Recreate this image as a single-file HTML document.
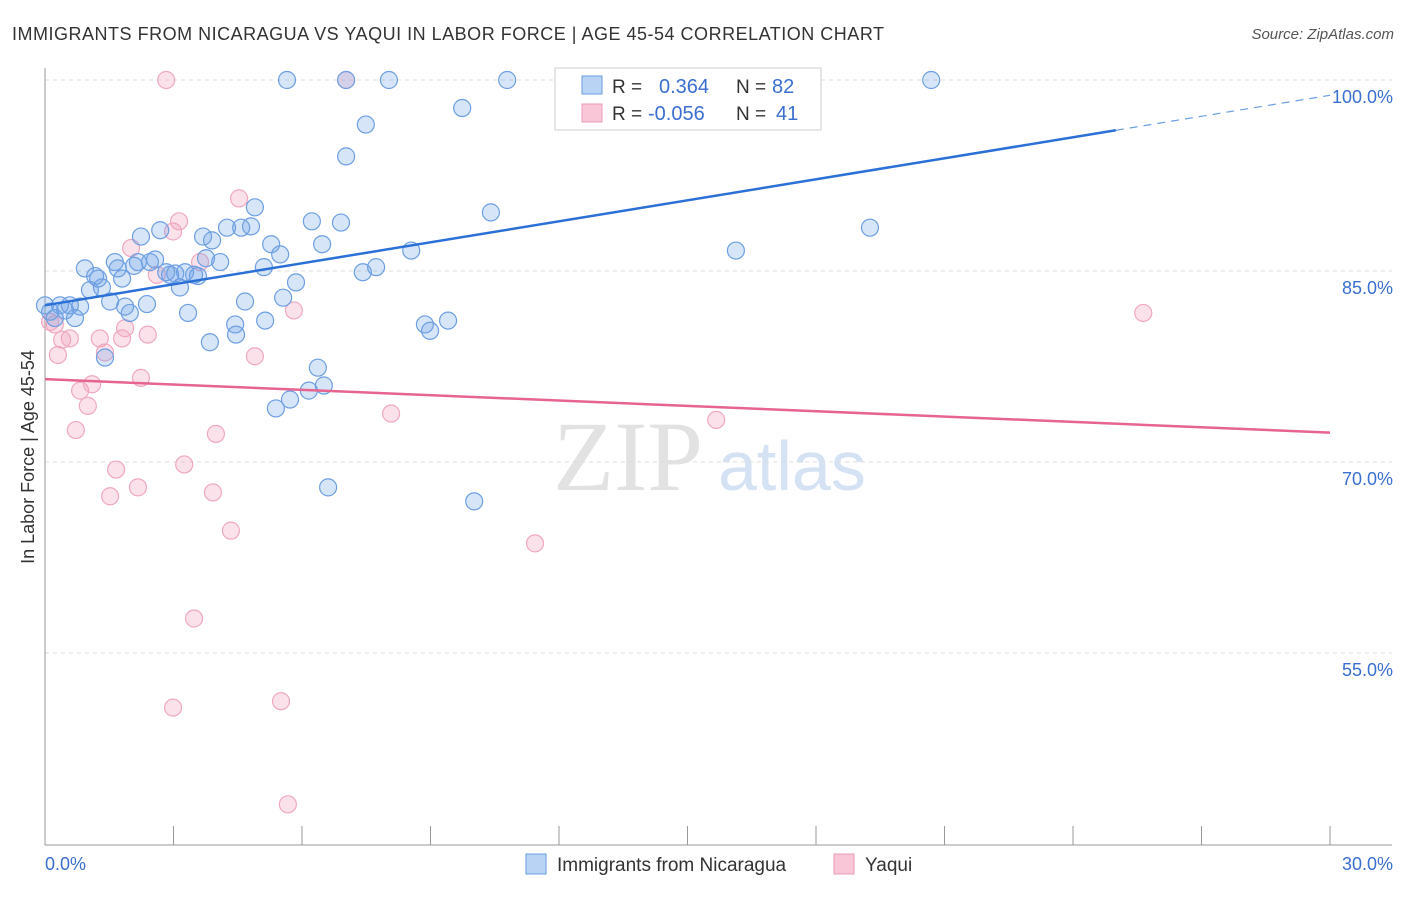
<!DOCTYPE html>
<html><head><meta charset="utf-8"><style>
body{margin:0;background:#fff;font-family:"Liberation Sans",sans-serif;}
</style></head><body>
<svg id="c" width="1406" height="892" xmlns="http://www.w3.org/2000/svg" style="font-family:'Liberation Sans',sans-serif">
<text x="12" y="40" font-size="18" fill="#333" textLength="872" lengthAdjust="spacing">IMMIGRANTS FROM NICARAGUA VS YAQUI IN LABOR FORCE | AGE 45-54 CORRELATION CHART</text>
<text x="1394" y="39" font-size="15" fill="#555" text-anchor="end" font-style="italic">Source: ZipAtlas.com</text>
<text x="34" y="457" font-size="18" fill="#333" text-anchor="middle" transform="rotate(-90 34 457)">In Labor Force | Age 45-54</text>
<text x="553" y="490" font-size="100" fill="#e2e2e2" font-family="Liberation Serif,serif">ZIP</text>
<text x="718" y="490" font-size="70" fill="#d4e2f4">atlas</text>
<g id="grid"></g><g id="pts"></g><g id="lines"></g>
<g>
<rect x="555" y="68" width="266" height="62" fill="#fff" stroke="#ccc"/>
<rect x="582" y="76" width="20" height="18" fill="#b9d3f5" stroke="#6a9ee0"/>
<rect x="582" y="104" width="20" height="18" fill="#f8c6d6" stroke="#eb9ab5"/>
<text x="612" y="93" font-size="19" fill="#333">R = </text><text x="659" y="93" font-size="20" fill="#3a6fd0">0.364</text>
<text x="736" y="93" font-size="19" fill="#333">N = </text><text x="772" y="93" font-size="20" fill="#3a6fd0">82</text>
<text x="612" y="120" font-size="19" fill="#333">R = </text><text x="648" y="120" font-size="20" fill="#3a6fd0">-0.056</text>
<text x="736" y="120" font-size="19" fill="#333">N = </text><text x="776" y="120" font-size="20" fill="#3a6fd0">41</text>
</g>
<g>
<rect x="526" y="854" width="20" height="20" fill="#b9d3f5" stroke="#6a9ee0"/>
<text x="557" y="871" font-size="19" fill="#333">Immigrants from Nicaragua</text>
<rect x="834" y="854" width="20" height="20" fill="#f8c6d6" stroke="#eb9ab5"/>
<text x="865" y="871" font-size="19" fill="#333">Yaqui</text>
</g>
</svg>
<script>
const yTicks=[100,85,70,55];
const yTickLabels=["100.0%","85.0%","70.0%","55.0%"];
const xTickVals=[0,3,6,9,12,15,18,21,24,27,30];
const blueX=[0,0.12,0.23,0.35,0.47,0.58,0.70,0.82,0.93,1.05,1.17,1.24,1.33,1.40,1.52,1.63,1.70,1.80,1.87,1.98,2.08,2.17,2.24,2.38,2.45,2.57,2.69,2.83,2.92,3.04,3.15,3.27,3.34,3.48,3.57,3.69,3.76,3.85,3.90,4.09,4.25,4.44,4.46,4.58,4.67,4.81,4.90,5.11,5.14,5.28,5.49,5.56,5.39,5.65,5.72,5.86,6.16,6.23,6.37,6.47,6.51,6.61,6.91,7.03,7.03,7.42,7.49,7.73,8.03,8.55,8.87,8.99,9.41,9.74,10.02,10.41,10.79,16.13,16.93,19.26,20.69];
const blueY=[82.3,81.8,81.3,82.3,81.9,82.3,81.3,82.2,85.2,83.5,84.6,84.4,83.7,78.2,82.6,85.7,85.2,84.4,82.2,81.7,85.4,85.7,87.7,82.4,85.7,85.9,88.2,84.9,84.7,84.8,83.7,84.9,81.7,84.7,84.6,87.7,86.0,79.4,87.4,85.7,88.4,80.8,80.0,88.4,82.6,88.5,90.0,85.3,81.1,87.1,86.3,82.9,74.2,100,74.9,84.1,75.6,88.9,77.4,87.1,76.0,68.0,88.8,94.0,100,84.9,96.5,85.3,100,86.6,80.8,80.3,81.1,97.8,66.9,89.6,100,86.6,100,88.4,100];
const pinkX=[0.12,0.23,0.30,0.40,0.58,0.82,1.00,1.10,0.72,1.28,1.40,1.52,1.66,1.80,1.87,2.01,2.17,2.24,2.40,2.61,2.83,2.99,3.13,2.99,3.25,3.48,3.62,3.92,3.99,4.34,4.53,4.90,5.51,5.67,5.81,7.03,8.08,11.44,15.67,25.64];
const pinkY=[81.0,80.8,78.4,79.6,79.7,75.6,74.4,76.1,72.5,79.7,78.6,67.3,69.4,79.7,80.5,86.8,68.0,76.6,80.0,84.7,100,50.7,88.9,88.1,69.8,57.7,85.7,67.6,72.2,64.6,90.7,78.3,51.2,43.1,81.9,100,73.8,63.6,73.3,81.7];
const blueTrend=[82.3,98.8];
const pinkTrend=[76.5,72.3];
const NS="http://www.w3.org/2000/svg";
const X=v=>45+v*(1285/30), Y=v=>80+(100-v)*12.73;
function mk(t,a,p){const e=document.createElementNS(NS,t);for(const k in a)e.setAttribute(k,a[k]);p.appendChild(e);return e;}
const grid=document.getElementById('grid');
yTicks.forEach((t,i)=>{
 const l=mk('line',{x1:45,x2:1392,y1:Y(t),y2:Y(t),stroke:'#ddd','stroke-dasharray':'4,4'},grid);
 
 
 const tx=mk('text',{x:1393,y:Y(t)+23,'font-size':18,fill:'#3a6fd0','text-anchor':'end'},grid);tx.textContent=yTickLabels[i];
 
 
});
const ax=mk('line',{x1:45,x2:45,y1:68,y2:845,stroke:'#999'},grid);


const bx=mk('line',{x1:45,x2:1392,y1:845,y2:845,stroke:'#999'},grid);


xTickVals.forEach(v=>{const t=mk('line',{x1:X(v),x2:X(v),y1:826,y2:845,stroke:'#999'},grid);
 
 });
const xl0=mk('text',{x:45,y:870,'font-size':18,fill:'#3a6fd0'},grid);xl0.textContent='0.0%';


const xl1=mk('text',{x:1393,y:870,'font-size':18,fill:'#3a6fd0','text-anchor':'end'},grid);xl1.textContent='30.0%';


const pts=document.getElementById('pts');
pinkX.forEach((v,i)=>{const c=mk('circle',{cx:X(v),cy:Y(pinkY[i]),r:8.5,fill:'rgba(242,150,180,0.28)',stroke:'#f0a8c0','stroke-width':1.2},pts);
 
 });
blueX.forEach((v,i)=>{const c=mk('circle',{cx:X(v),cy:Y(blueY[i]),r:8.5,fill:'rgba(110,160,230,0.28)',stroke:'#6d9fe2','stroke-width':1.2},pts);
 
 });
const lines=document.getElementById('lines');
const bAt=v=>blueTrend[0]+(blueTrend[1]-blueTrend[0])*v/30;
const b1=mk('line',{x1:X(0),y1:Y(bAt(0)),x2:X(25),y2:Y(bAt(25)),stroke:'#2b70d6','stroke-width':2.5},lines);


const b2=mk('line',{x1:X(25),y1:Y(bAt(25)),x2:X(30),y2:Y(bAt(30)),stroke:'#6a9ee0','stroke-width':1.2,'stroke-dasharray':'8,6'},lines);


const p1=mk('line',{x1:X(0),y1:Y(pinkTrend[0]),x2:X(30),y2:Y(pinkTrend[1]),stroke:'#e6648f','stroke-width':2.5},lines);


</script>
</body></html>
